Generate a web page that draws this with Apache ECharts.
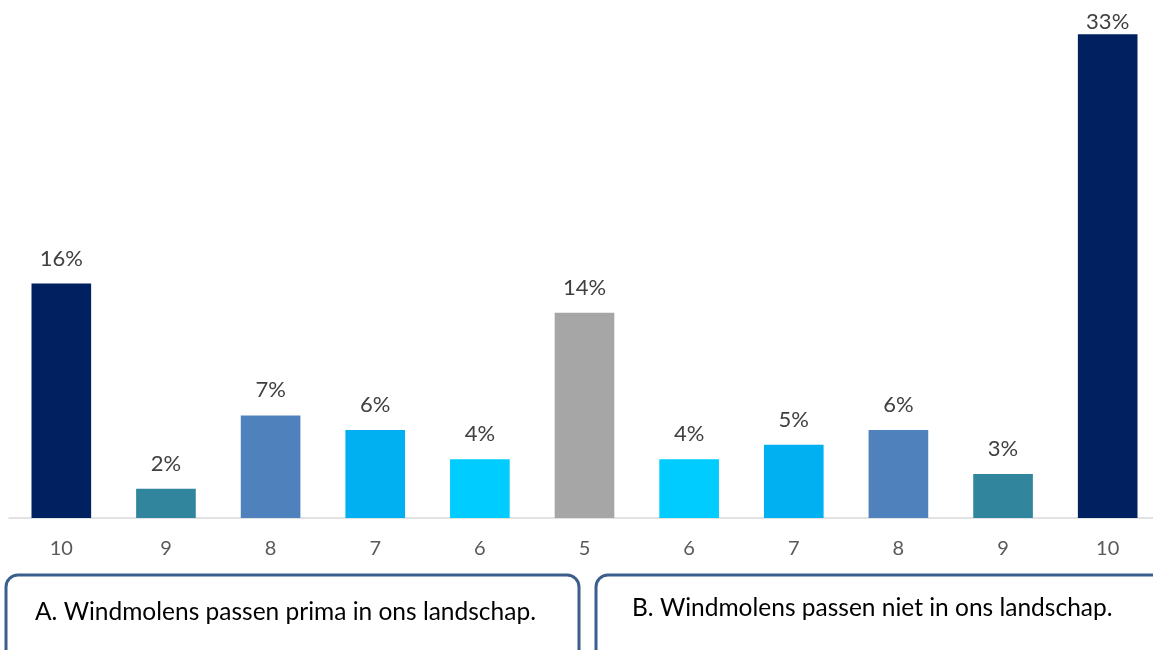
<!DOCTYPE html>
<html>
<head>
<meta charset="utf-8">
<script src="https://cdn.jsdelivr.net/npm/echarts@6/dist/echarts.min.js"></script>
<style>
  html, body { margin: 0; padding: 0; background: #ffffff; overflow: hidden; }
  #chart { width: 1170px; height: 650px; }
</style>
</head>
<body>
<div id="chart"></div>
<script>
// Score categories: left half "fits fine", right half "does not fit", 5 = neutral
const categories = ['10', '9', '8', '7', '6', '5', '6', '7', '8', '9', '10'];
// Share of respondents per score (%)
const shares = [16, 2, 7, 6, 4, 14, 4, 5, 6, 3, 33];
// Statement captions under each half of the scale
const statementA = 'A. Windmolens passen prima in ons landschap.';
const statementB = 'B. Windmolens passen niet in ons landschap.';

// Colour per score level
const scoreColors = {
  '10': '#002060',
  '9': '#31859C',
  '8': '#4F81BD',
  '7': '#00B0F0',
  '6': '#00CCFF',
  '5': '#A6A6A6'
};

const FONT = 'Lato, "Open Sans", sans-serif';
const maxShare = Math.max(...shares);

const chart = echarts.init(document.getElementById('chart'));

chart.setOption({
  animation: false,
  backgroundColor: '#ffffff',
  grid: { left: 9, top: 5, width: 1151, height: 513, containLabel: false },
  xAxis: {
    type: 'category',
    data: categories,
    axisLine: { show: true, lineStyle: { color: '#D9D9D9', width: 1.5 } },
    axisTick: { show: false },
    axisLabel: { color: '#595959', fontSize: 20, fontFamily: FONT, margin: 21 }
  },
  yAxis: {
    type: 'value',
    min: 0,
    max: 35,
    show: false,
    splitLine: { show: false }
  },
  series: [{
    type: 'bar',
    barWidth: '57%',
    data: shares.map((v, i) => {
      const item = { value: v, itemStyle: { color: scoreColors[categories[i]] } };
      // the tallest bar reaches the top edge, so its label hugs the bar
      if (v === maxShare) item.label = { distance: 1 };
      return item;
    }),
    label: {
      show: true,
      position: 'top',
      distance: 14,
      formatter: p => p.value + '%',
      color: '#404040',
      fontSize: 22,
      fontFamily: FONT
    }
  }],
  graphic: [
    {
      type: 'rect',
      shape: { x: 6, y: 575, width: 573, height: 90, r: 12 },
      style: { fill: '#ffffff', stroke: '#3B5E8C', lineWidth: 3 }
    },
    {
      type: 'text',
      left: 35,
      top: 600,
      style: { text: statementA, fill: '#000000', fontSize: 24.5, fontFamily: FONT }
    },
    {
      type: 'rect',
      shape: { x: 596, y: 575, width: 600, height: 90, r: 12 },
      style: { fill: '#ffffff', stroke: '#3B5E8C', lineWidth: 3 }
    },
    {
      type: 'text',
      left: 632,
      top: 596,
      style: { text: statementB, fill: '#000000', fontSize: 24.5, fontFamily: FONT }
    }
  ]
});
</script>
</body>
</html>
